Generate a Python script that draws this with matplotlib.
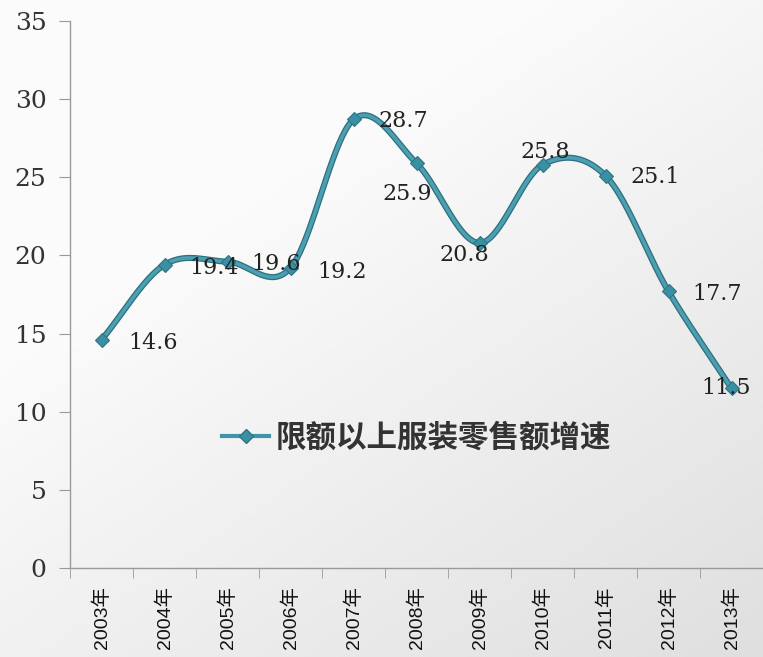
import numpy as np
import matplotlib
matplotlib.use("Agg")
import matplotlib.pyplot as plt
from matplotlib.lines import Line2D

years = ["2003年", "2004年", "2005年", "2006年", "2007年", "2008年",
         "2009年", "2010年", "2011年", "2012年", "2013年"]
values = [14.6, 19.4, 19.6, 19.2, 28.7, 25.9, 20.8, 25.8, 25.1, 17.7, 11.5]
series_name = "限额以上服装零售额增速"
yticks = [0, 5, 10, 15, 20, 25, 30, 35]
# label offsets in points (dx, dy)
label_offsets = [(37, -2), (36, -2), (35, -2), (37, -3), (36, -1), (-7, -22),
                 (-11, -9), (2, 9), (36, -1), (35, -2), (-4, 0)]

W, H = 763, 657
fig = plt.figure(figsize=(W / 100, H / 100), dpi=100)

# background gradient
bg = fig.add_axes([0, 0, 1, 1], zorder=-10)
yy, xx = np.mgrid[0:1:200j, 0:1:200j]
g = 0.985 - 0.10 * np.clip((xx * 0.7 + yy * 0.9) - 0.5, 0, 1.2)
bg.imshow(np.dstack([g, g, g]), extent=[0, 1, 0, 1], aspect="auto", origin="upper")
bg.axis("off")

ax = fig.add_axes([70 / W, 89 / H, (W - 70) / W, (568 - 21) / H])
ax.patch.set_alpha(0)

x = np.arange(len(values))
y = np.array(values, dtype=float)

# Catmull-Rom smoothing (Excel style smoothed line)
P = np.column_stack([x, y])
P_ext = np.vstack([P[0] - (P[1] - P[0]), P, P[-1] + (P[-1] - P[-2])])
curve = []
for i in range(1, len(P_ext) - 2):
    p0, p1, p2, p3 = P_ext[i - 1], P_ext[i], P_ext[i + 1], P_ext[i + 2]
    t = np.linspace(0, 1, 40)[:, None]
    seg = 0.5 * ((2 * p1) + (-p0 + p2) * t + (2 * p0 - 5 * p1 + 4 * p2 - p3) * t ** 2
                 + (-p0 + 3 * p1 - 3 * p2 + p3) * t ** 3)
    curve.append(seg)
curve = np.vstack(curve)

ax.plot(curve[:, 0], curve[:, 1], color="#2e6f7e", lw=4.4, solid_capstyle="round", zorder=3)
ax.plot(curve[:, 0], curve[:, 1], color="#4b9fb1", lw=2.6, solid_capstyle="round", zorder=4)
ax.plot(x, y, linestyle="none", marker="D", markersize=7, color="#3a90a3",
        markeredgecolor="#2e7486", markeredgewidth=0.8, zorder=5)

for xi, yi, (dx, dy) in zip(x, y, label_offsets):
    ax.annotate(f"{yi:g}", (xi, yi), xytext=(dx, dy), textcoords="offset points",
                ha="center", va="center", fontsize=16, color="#222222",
                family=["DejaVu Serif"], zorder=6, annotation_clip=False)

ax.set_xlim(-0.5, len(values) - 0.5)
ax.set_ylim(0, 35)
ax.set_yticks(yticks)
ax.set_yticklabels([str(v) for v in yticks], family=["DejaVu Serif"],
                   fontsize=18, color="#333333")
ax.set_xticks(x)
ax.set_xticklabels(years, rotation=90, fontsize=14, color="#111111",
                   family=["Liberation Sans", "Noto Sans CJK SC"])
ax.set_xticks(np.arange(-0.5, len(values), 1), minor=True)
ax.tick_params(axis="x", which="major", length=0, pad=13)
ax.tick_params(axis="x", which="minor", length=7, color="#999999", direction="out")
ax.tick_params(axis="y", length=8, color="#999999", pad=9, direction="out")

for s in ["top", "right"]:
    ax.spines[s].set_visible(False)
for s in ["left", "bottom"]:
    ax.spines[s].set_color("#9a9a9a")
    ax.spines[s].set_linewidth(1.0)

handle = Line2D([0], [0], color="#3f95a7", lw=3, marker="D", markersize=7,
                markerfacecolor="#3a90a3", markeredgecolor="#2e7486")
leg = ax.legend([handle], [series_name], loc="center left",
                bbox_to_anchor=((222 - 70) / (W - 70), (568 - 438) / 547),
                frameon=False, handlelength=1.55, handletextpad=0.22, borderaxespad=0,
                borderpad=0,
                prop={"family": ["Noto Sans CJK SC"], "size": 22, "weight": "bold"})
for t in leg.get_texts():
    t.set_color("#333333")

fig.savefig("out.png", dpi=100)
